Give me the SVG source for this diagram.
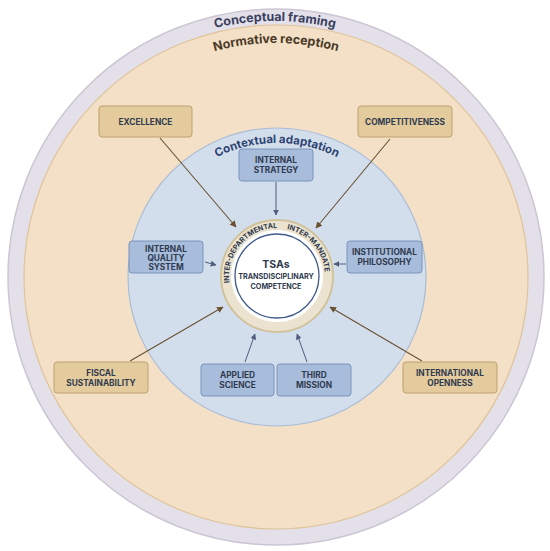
<svg xmlns="http://www.w3.org/2000/svg" xmlns:xlink="http://www.w3.org/1999/xlink" width="550" height="551" viewBox="0 0 550 551">
<style>
.t{font-family:Inter,"Liberation Sans",Arial,sans-serif;font-weight:700;}
.box{font-size:8.3px;fill:#2f3a4e;text-anchor:middle;}
.tan{fill:#e3cb9d;stroke:#bea171;stroke-width:1;}
.blu{fill:#a8bcdc;stroke:#7d94ba;stroke-width:1;}
.ca{stroke:#6a5130;stroke-width:1.1;fill:none;}
.cb{stroke:#4d5d7c;stroke-width:1;fill:none;}
</style>
<defs>
<marker id="ma" viewBox="0 0 10 10" refX="9" refY="5" markerWidth="6" markerHeight="6" orient="auto"><path d="M0,0 L10,5 L0,10 z" fill="#6a5130"/></marker>
<marker id="mb" viewBox="0 0 10 10" refX="9" refY="5" markerWidth="6" markerHeight="6" orient="auto"><path d="M0,0 L10,5 L0,10 z" fill="#4d5d7c"/></marker>
<path id="p1" d="M19,277 A256,256 0 0 1 531,277"/>
<path id="p2" d="M42,277 A234,234 0 0 1 510,277"/>
<path id="p3" d="M143,277 A134,134 0 0 1 411,277"/>
<path id="p4" d="M229.5,282.7 A48,48 0 0 1 282.0,228.3"/>
<path id="p5" d="M287,229.1 A48,48 0 0 1 325,276"/>
</defs>
<g id="rings">
<circle cx="276" cy="277" r="268" fill="#e4e0ea" stroke="#cbc6d3" stroke-width="1.5"/>
<circle cx="276" cy="277" r="252" fill="#f3e0c6" stroke="#dfc399" stroke-width="1.2"/>
<circle cx="277" cy="277" r="149" fill="#d3deed" stroke="#a9bcd6" stroke-width="1.2"/>
<text class="t" font-size="12.5" fill="#3a3f5e"><textPath xlink:href="#p1" startOffset="50%" text-anchor="middle">Conceptual framing</textPath></text>
<text class="t" font-size="12.5" fill="#4a3a28"><textPath xlink:href="#p2" startOffset="50%" text-anchor="middle">Normative reception</textPath></text>
<text class="t" font-size="11.5" fill="#2d4472"><textPath xlink:href="#p3" startOffset="50%" text-anchor="middle">Contextual adaptation</textPath></text>
</g>
<g id="core">
<circle cx="277" cy="276" r="56" fill="#ebe3cf" stroke="#d2c29c" stroke-width="2"/>
<circle cx="277" cy="276" r="46" fill="#ffffff"/>
<circle cx="277" cy="276" r="42" fill="#ffffff" stroke="#3f5a8a" stroke-width="1.3"/>
<text class="t" font-size="7.2" fill="#2f3a4e"><textPath xlink:href="#p4" textLength="82" lengthAdjust="spacingAndGlyphs">INTER-DEPARTMENTAL</textPath></text>
<text class="t" font-size="7.2" fill="#2f3a4e"><textPath xlink:href="#p5">INTER-MANDATE</textPath></text>
<text class="t" x="276" y="268" font-size="10.5" fill="#2f3a4e" text-anchor="middle">TSAs</text>
<text class="t" x="276" y="279" font-size="7.2" fill="#2f3a4e" text-anchor="middle">TRANSDISCIPLINARY</text>
<text class="t" x="276" y="289" font-size="7.2" fill="#2f3a4e" text-anchor="middle">COMPETENCE</text>
</g>
<g id="connectors">
<line class="ca" x1="160" y1="138" x2="236" y2="227" marker-end="url(#ma)"/>
<line class="ca" x1="390" y1="139" x2="316" y2="228" marker-end="url(#ma)"/>
<line class="ca" x1="130" y1="361" x2="223" y2="307" marker-end="url(#ma)"/>
<line class="ca" x1="422" y1="361" x2="330" y2="307" marker-end="url(#ma)"/>
<line class="cb" x1="276" y1="182" x2="276" y2="215" marker-end="url(#mb)"/>
<line class="cb" x1="205" y1="262" x2="216" y2="265" marker-end="url(#mb)"/>
<line class="cb" x1="346" y1="264" x2="334" y2="264" marker-end="url(#mb)"/>
<line class="cb" x1="245" y1="362" x2="255" y2="334" marker-end="url(#mb)"/>
<line class="cb" x1="307" y1="362" x2="297" y2="334" marker-end="url(#mb)"/>
</g>
<g id="excellence"><rect class="tan" x="99" y="106" width="93" height="31" rx="3"/><text class="t box" x="145.5" y="124.5">EXCELLENCE</text></g>
<g id="competitiveness"><rect class="tan" x="358" y="106" width="94" height="31" rx="3"/><text class="t box" x="405" y="124.5">COMPETITIVENESS</text></g>
<g id="fiscal"><rect class="tan" x="54" y="362" width="94" height="31" rx="3"/><text class="t box" x="101" y="376">FISCAL</text><text class="t box" x="101" y="386">SUSTAINABILITY</text></g>
<g id="international"><rect class="tan" x="403" y="362" width="94" height="31" rx="3"/><text class="t box" x="450" y="376">INTERNATIONAL</text><text class="t box" x="450" y="386">OPENNESS</text></g>
<g id="strategy"><rect class="blu" x="239" y="149" width="74" height="32" rx="3"/><text class="t box" x="276" y="163">INTERNAL</text><text class="t box" x="276" y="173">STRATEGY</text></g>
<g id="quality"><rect class="blu" x="129" y="241" width="74" height="32" rx="3"/><text class="t box" x="166" y="252">INTERNAL</text><text class="t box" x="166" y="261">QUALITY</text><text class="t box" x="166" y="270">SYSTEM</text></g>
<g id="philosophy"><rect class="blu" x="347" y="241" width="75" height="32" rx="3"/><text class="t box" x="384.5" y="255">INSTITUTIONAL</text><text class="t box" x="384.5" y="265">PHILOSOPHY</text></g>
<g id="applied"><rect class="blu" x="201" y="364" width="73" height="32" rx="3"/><text class="t box" x="237.5" y="378">APPLIED</text><text class="t box" x="237.5" y="388">SCIENCE</text></g>
<g id="third"><rect class="blu" x="277" y="364" width="74" height="32" rx="3"/><text class="t box" x="314" y="378">THIRD</text><text class="t box" x="314" y="388">MISSION</text></g>
</svg>
